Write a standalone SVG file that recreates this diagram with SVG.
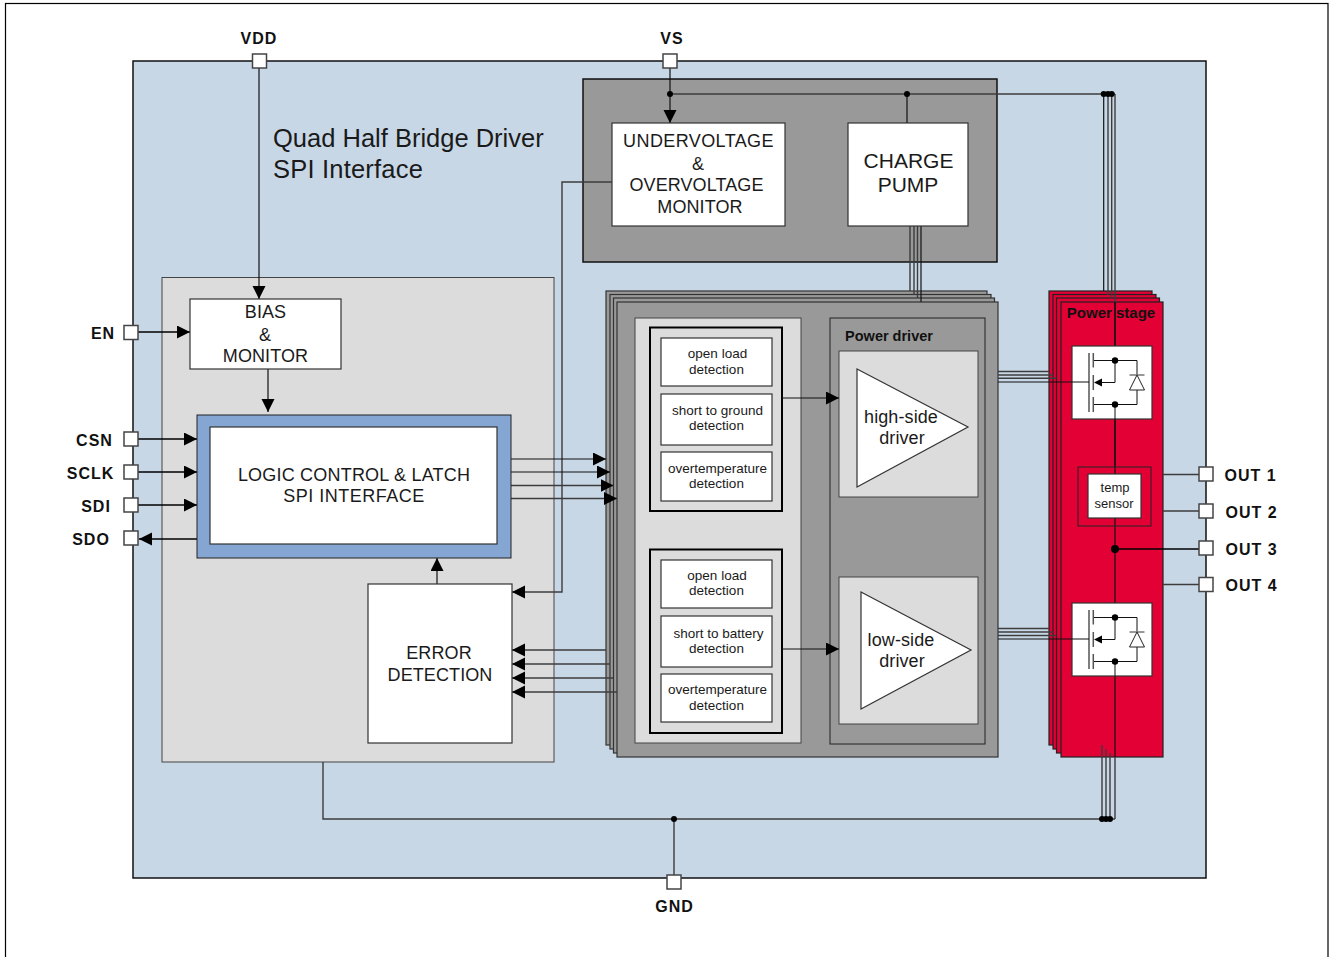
<svg xmlns="http://www.w3.org/2000/svg" width="1331" height="957" viewBox="0 0 1331 957">
<style>
text{font-family:"Liberation Sans",Arial,sans-serif;fill:#1a1a1a;text-anchor:middle}
.b{font-weight:bold;font-size:16px;letter-spacing:1px;fill:#111}
.m{font-size:18px;letter-spacing:.1px}
.s{font-size:13.500px}
.box{fill:#fff;stroke:#333;stroke-width:1.200}
.w{fill:none;stroke:#111;stroke-width:1.200}
.t{fill:none;stroke:#000;stroke-width:1.600}
.g{fill:none;stroke:#3c3c3c;stroke-width:1.400}
.pin{fill:#fff;stroke:#444;stroke-width:1.500}
.red{fill:#e30034;stroke:#222;stroke-width:1.200}
.drv{fill:#999;stroke:#333;stroke-width:1.200}
.lg{fill:#dcdcdc;stroke:#444;stroke-width:1}
</style>
<defs>
<marker id="a" markerUnits="userSpaceOnUse" markerWidth="14" markerHeight="14" refX="13" refY="6.500" orient="auto"><path d="M0 0L13 6.500L0 13Z" fill="#000"/></marker>
<g id="fet">
<path d="M21 14.500H65V28.500M65 44V58.500H21M43 14.500V36.500H29M43 58.500V73" class="w" style="stroke-width:1"/>
<path d="M17 7V66" fill="none" stroke="#555" stroke-width="1.500"/>
<path d="M21.300 7V21.500M21.300 29V44M21.300 51V66" fill="none" stroke="#555" stroke-width="1.500"/>
<path d="M22 36.500L30 32.500V40.500Z" fill="#000"/>
<path d="M65 29L57.500 44H72.500Z" fill="#fff" stroke="#222"/>
<path d="M57.500 29H72.500" stroke="#333" fill="none"/>
<circle cx="43" cy="14.500" r="3.200" fill="#000"/><circle cx="43" cy="58.500" r="3.200" fill="#000"/>
</g>
</defs>
<rect id="page" x="5.500" y="3.500" width="1322.500" height="960" fill="#fff" stroke="#000" stroke-width="1.200"/>
<rect id="chip" x="133" y="61" width="1073" height="817" fill="#c8d7e6" stroke="#111" stroke-width="1.500"/>

<g id="logic-panel"><rect x="162" y="277.500" width="392" height="484.500" fill="#dcdcdc" stroke="#444"/></g>

<g id="supply-block">
<rect x="583" y="79" width="414" height="183" fill="#999" stroke="#111" stroke-width="1.500"/>
</g>

<g id="driver-stack">
<rect x="606" y="291" width="381" height="454" class="drv"/>
<rect x="610" y="294.500" width="381" height="454.500" class="drv"/>
<rect x="613.500" y="298" width="381" height="455" class="drv"/>
<rect x="617" y="302" width="381" height="455" class="drv"/>
</g>

<g id="power-stack">
<rect x="1049" y="291" width="103" height="454" class="red"/>
<rect x="1053" y="294.500" width="103" height="454.500" class="red"/>
<rect x="1056.500" y="298" width="103" height="455" class="red"/>
<rect x="1061" y="302" width="102" height="455" class="red"/>
</g>

<g id="connectors">
<path d="M259 68V299" class="w" marker-end="url(#a)"/>
<path d="M670 68V123" class="w" marker-end="url(#a)"/>
<path d="M670 94H1115" class="g"/>
<path d="M907 94V123" class="w"/>
<path d="M1103.700 94V291" class="w"/>
<path d="M1108 94V295" class="g"/>
<path d="M1111.700 94V298" class="g"/>
<path d="M1115 94V302" class="g"/>
<path d="M910 226V291M914 226V294.500M917.500 226V298" class="g"/>
<path d="M921 226V302" class="w"/>
<path d="M612 182H562V592H512" class="g" marker-end="url(#a)"/>
<path d="M138 332H190" class="t" marker-end="url(#a)"/>
<path d="M268 369V412" class="w" marker-end="url(#a)"/>
<path d="M138 439H197" class="t" marker-end="url(#a)"/>
<path d="M138 472H197" class="t" marker-end="url(#a)"/>
<path d="M138 505H197" class="t" marker-end="url(#a)"/>
<path d="M197 539H139" class="t" marker-end="url(#a)"/>
<path d="M511 459H606" class="w" marker-end="url(#a)"/>
<path d="M511 472H610" class="w" marker-end="url(#a)"/>
<path d="M511 485.500H613.500" class="g" marker-end="url(#a)"/>
<path d="M511 498.500H617" class="g" marker-end="url(#a)"/>
<path d="M606 650H512" class="g" marker-end="url(#a)"/>
<path d="M610 664H512" class="g" marker-end="url(#a)"/>
<path d="M613.500 678H512" class="g" marker-end="url(#a)"/>
<path d="M617 692H512" class="g" marker-end="url(#a)"/>
<path d="M437 584V558" class="w" marker-end="url(#a)"/>
<path d="M998 371.500H1049M998 375H1053M998 378.300H1056.500" class="g"/>
<path d="M998 628.500H1049M998 632H1053M998 635.500H1056.500" class="g"/>
<path d="M1115 302V757" class="w"/>
<path d="M1163 474.500H1199M1163 584.500H1199M1163 511H1199" class="g"/>
<path d="M1115 549H1199" class="t"/>
<path d="M323 762V819H1115" class="g"/>
<path d="M674 819V875" class="g"/>
<path d="M1102 745V819M1106 749V819M1110 753V819M1115 757V819" class="g"/>
<g fill="#000">
<circle cx="670" cy="94" r="3"/><circle cx="907" cy="94" r="3"/>
<circle cx="1103.700" cy="94" r="3"/><circle cx="1108" cy="94" r="3"/><circle cx="1111.700" cy="94" r="3"/>
<circle cx="1115" cy="549" r="4"/>
<circle cx="674" cy="819" r="3"/>
<circle cx="1102" cy="819" r="3"/><circle cx="1106" cy="819" r="3"/><circle cx="1110" cy="819" r="3"/>
</g>
</g>

<g id="undervoltage-monitor"><rect x="612" y="123" width="173" height="103" class="box"/>
<text class="m" x="698.500" y="147" style="letter-spacing:.4px">UNDERVOLTAGE</text><text class="m" x="698" y="170">&amp;</text><text class="m" x="696.500" y="191">OVERVOLTAGE</text><text class="m" x="700" y="213">MONITOR</text></g>
<g id="charge-pump"><rect x="848" y="123" width="120" height="103" class="box"/>
<text x="908.500" y="168" font-size="21">CHARGE</text><text x="908" y="192" font-size="21">PUMP</text></g>
<g id="bias-monitor"><rect x="190" y="299" width="151" height="70" class="box"/>
<text class="m" x="265.500" y="318">BIAS</text><text class="m" x="265" y="341">&amp;</text><text class="m" x="265.500" y="362">MONITOR</text></g>
<g id="logic-control"><rect x="197" y="415" width="314" height="143" fill="#85a5d3" stroke="#222"/>
<rect x="210" y="427" width="287" height="117" class="box"/>
<text class="m" x="354" y="481" style="letter-spacing:.2px">LOGIC CONTROL &amp; LATCH</text><text class="m" x="354" y="502" style="letter-spacing:.5px">SPI INTERFACE</text></g>
<g id="error-detection"><rect x="368" y="584" width="144" height="159" class="box"/>
<text class="m" x="439" y="659">ERROR</text><text class="m" x="440" y="681">DETECTION</text></g>

<g id="detection-panel"><rect x="635" y="318" width="166" height="425" class="lg"/>
<rect x="650" y="327.500" width="132" height="183.500" fill="#dcdcdc" stroke="#000" stroke-width="2"/>
<rect x="650" y="549.500" width="132" height="183.500" fill="#dcdcdc" stroke="#000" stroke-width="2"/></g>
<g id="open-load-1"><rect x="661" y="338" width="111" height="48" class="box"/><text class="s" x="717.500" y="358">open load</text><text class="s" x="716.500" y="374">detection</text></g>
<g id="short-ground"><rect x="661" y="394" width="111" height="51" class="box"/><text class="s" x="717.500" y="415">short to ground</text><text class="s" x="716.500" y="430">detection</text></g>
<g id="overtemp-1"><rect x="661" y="452" width="111" height="49" class="box"/><text class="s" x="717.500" y="473">overtemperature</text><text class="s" x="716.500" y="488">detection</text></g>
<g id="open-load-2"><rect x="661" y="560" width="111" height="48" class="box"/><text class="s" x="717" y="580">open load</text><text class="s" x="716.500" y="595">detection</text></g>
<g id="short-battery"><rect x="661" y="616" width="111" height="51" class="box"/><text class="s" x="718.500" y="638">short to battery</text><text class="s" x="716.500" y="653">detection</text></g>
<g id="overtemp-2"><rect x="661" y="674" width="111" height="48" class="box"/><text class="s" x="717.500" y="694">overtemperature</text><text class="s" x="716.500" y="710">detection</text></g>

<g id="power-driver"><rect x="830" y="318" width="155" height="426" fill="#999" stroke="#222"/>
<text x="889" y="341" font-size="14.500" font-weight="bold" style="fill:#111">Power driver</text></g>
<g id="high-side"><rect x="839" y="351" width="139" height="146" class="lg"/>
<path d="M857 369L968 427L857 487Z" class="box"/>
<text class="m" x="901" y="423">high-side</text><text class="m" x="902" y="444">driver</text></g>
<g id="low-side"><rect x="839" y="577" width="139" height="147" class="lg"/>
<path d="M861 592L971 650L861 709Z" class="box"/>
<text class="m" x="901" y="646">low-side</text><text class="m" x="902" y="667">driver</text></g>
<path d="M782 398H839" class="w" marker-end="url(#a)"/>
<path d="M782 649H839" class="w" marker-end="url(#a)"/>

<g id="power-stage-parts">
<text x="1111" y="318" font-size="15" font-weight="bold" style="fill:#111">Power stage</text>
<path d="M1115 302V346" class="w"/>
</g>
<g id="high-fet"><rect x="1072" y="346" width="80" height="73" class="box"/><use href="#fet" x="1072" y="346"/><path d="M998 382H1089" class="w"/><path d="M1115 419V467" class="w"/></g>
<g id="low-fet"><rect x="1072" y="603" width="80" height="73" class="box"/><use href="#fet" x="1072" y="603"/><path d="M998 639H1089" class="w"/></g>
<g id="temp-sensor"><rect x="1078" y="467" width="73" height="59" fill="none" stroke="#222"/><rect x="1088" y="474" width="53" height="44" class="box"/>
<text x="1115" y="492" font-size="13">temp</text><text x="1114" y="508" font-size="13">sensor</text></g>

<g id="titles"><text x="273" y="147" font-size="25.500" style="text-anchor:start">Quad Half Bridge Driver</text><text x="273" y="178" font-size="25.500" style="text-anchor:start;letter-spacing:.2px">SPI Interface</text></g>

<g id="pin-vdd"><rect x="252.500" y="54" width="14" height="14" class="pin"/><text class="b" x="259" y="44">VDD</text></g>
<g id="pin-vs"><rect x="663" y="54" width="14" height="14" class="pin"/><text class="b" x="672" y="44">VS</text></g>
<g id="pin-en"><rect x="124" y="325.500" width="14" height="14" class="pin"/><text class="b" x="103" y="339">EN</text></g>
<g id="pin-csn"><rect x="124" y="432" width="14" height="14" class="pin"/><text class="b" x="94.500" y="446">CSN</text></g>
<g id="pin-sclk"><rect x="124" y="465" width="14" height="14" class="pin"/><text class="b" x="90.500" y="479">SCLK</text></g>
<g id="pin-sdi"><rect x="124" y="498" width="14" height="14" class="pin"/><text class="b" x="96" y="512">SDI</text></g>
<g id="pin-sdo"><rect x="124" y="531" width="14" height="14" class="pin"/><text class="b" x="91" y="545">SDO</text></g>
<g id="pin-out1"><rect x="1199" y="467" width="14" height="14" class="pin"/><text class="b" x="1250.500" y="481">OUT 1</text></g>
<g id="pin-out2"><rect x="1199" y="504" width="14" height="14" class="pin"/><text class="b" x="1251.500" y="518">OUT 2</text></g>
<g id="pin-out3"><rect x="1199" y="541" width="14" height="14" class="pin"/><text class="b" x="1251.500" y="555">OUT 3</text></g>
<g id="pin-out4"><rect x="1199" y="577.500" width="14" height="14" class="pin"/><text class="b" x="1251.500" y="591">OUT 4</text></g>
<g id="pin-gnd"><rect x="667" y="875" width="14" height="14" class="pin"/><text class="b" x="674.500" y="912">GND</text></g>
</svg>
